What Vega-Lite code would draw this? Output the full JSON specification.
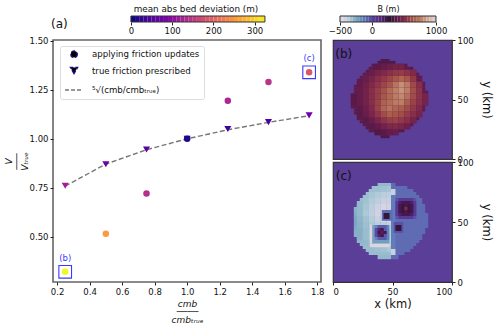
{"$schema":"https://vega.github.io/schema/vega-lite/v6.json","padding":{"left":3,"top":4,"right":2,"bottom":1},"background":"white","config":{"font":"DejaVu Sans","view":{"stroke":null},"axis":{"labelFont":"DejaVu Sans","titleFont":"DejaVu Sans","grid":false,"tickColor":"#222","domainColor":"#222","labelColor":"#111","titleColor":"#111","labelFontSize":8.5,"tickSize":3,"labelOverlap":false}},
"datasets":{
"pts":[{"r":0.25,"V":0.32,"dev":325,"s":"applying friction updates"},{"r":0.5,"V":0.515,"dev":250,"s":"applying friction updates"},{"r":0.75,"V":0.72,"dev":135,"s":"applying friction updates"},{"r":1.25,"V":1.195,"dev":125,"s":"applying friction updates"},{"r":1.5,"V":1.29,"dev":140,"s":"applying friction updates"},{"r":1.75,"V":1.34,"dev":180,"s":"applying friction updates"},{"r":0.25,"V":0.76,"dev":115,"s":"true friction prescribed"},{"r":0.5,"V":0.87,"dev":65,"s":"true friction prescribed"},{"r":0.75,"V":0.945,"dev":50,"s":"true friction prescribed"},{"r":1.25,"V":1.05,"dev":30,"s":"true friction prescribed"},{"r":1.5,"V":1.085,"dev":40,"s":"true friction prescribed"},{"r":1.75,"V":1.12,"dev":70,"s":"true friction prescribed"},{"r":1.0,"V":1.0,"dev":10,"s":"true friction prescribed"},{"r":1.0,"V":1.0,"dev":8,"s":"applying friction updates"}],
"ln":[{"r":0.25,"V":0.758},{"r":0.5,"V":0.871},{"r":0.75,"V":0.944},{"r":1.0,"V":1.0},{"r":1.25,"V":1.046},{"r":1.5,"V":1.084},{"r":1.75,"V":1.118}],
"sel":[{"r":0.25,"V":0.32,"t":"(b)"},{"r":1.75,"V":1.34,"t":"(c)"}],
"cb1":[{"v":0,"v2":10},{"v":10,"v2":20},{"v":20,"v2":30},{"v":30,"v2":40},{"v":40,"v2":50},{"v":50,"v2":60},{"v":60,"v2":70},{"v":70,"v2":80},{"v":80,"v2":90},{"v":90,"v2":100},{"v":100,"v2":110},{"v":110,"v2":120},{"v":120,"v2":130},{"v":130,"v2":140},{"v":140,"v2":150},{"v":150,"v2":160},{"v":160,"v2":170},{"v":170,"v2":180},{"v":180,"v2":190},{"v":190,"v2":200},{"v":200,"v2":210},{"v":210,"v2":220},{"v":220,"v2":230},{"v":230,"v2":240},{"v":240,"v2":250},{"v":250,"v2":260},{"v":260,"v2":270},{"v":270,"v2":280},{"v":280,"v2":290},{"v":290,"v2":300},{"v":300,"v2":310},{"v":310,"v2":325}],
"cb2":[{"v":-500,"v2":-450},{"v":-450,"v2":-400},{"v":-400,"v2":-350},{"v":-350,"v2":-300},{"v":-300,"v2":-250},{"v":-250,"v2":-200},{"v":-200,"v2":-150},{"v":-150,"v2":-100},{"v":-100,"v2":-50},{"v":-50,"v2":0},{"v":0,"v2":50},{"v":50,"v2":100},{"v":100,"v2":150},{"v":150,"v2":200},{"v":200,"v2":250},{"v":250,"v2":300},{"v":300,"v2":350},{"v":350,"v2":400},{"v":400,"v2":450},{"v":450,"v2":500},{"v":500,"v2":550},{"v":550,"v2":600},{"v":600,"v2":650},{"v":650,"v2":700},{"v":700,"v2":750},{"v":750,"v2":800},{"v":800,"v2":850},{"v":850,"v2":900},{"v":900,"v2":950},{"v":950,"v2":1000}],
"b":[
{"x":40,"x2":47.5,"y":17.5,"y2":20,"v":340},{"x":35,"x2":55,"y":20,"y2":22.5,"v":350},{"x":30,"x2":60,"y":22.5,"y2":25,"v":360},{"x":27.5,"x2":65,"y":25,"y2":27.5,"v":360},{"x":25,"x2":67.5,"y":27.5,"y2":30,"v":370},{"x":22.5,"x2":70,"y":30,"y2":32.5,"v":370},{"x":20,"x2":72.5,"y":32.5,"y2":35,"v":370},{"x":20,"x2":75,"y":35,"y2":37.5,"v":380},{"x":17.5,"x2":75,"y":37.5,"y2":40,"v":380},{"x":17.5,"x2":77.5,"y":40,"y2":42.5,"v":380},{"x":15,"x2":77.5,"y":42.5,"y2":45,"v":380},{"x":15,"x2":80,"y":45,"y2":47.5,"v":380},{"x":15,"x2":80,"y":47.5,"y2":50,"v":380},{"x":15,"x2":80,"y":50,"y2":52.5,"v":380},{"x":15,"x2":80,"y":52.5,"y2":55,"v":380},{"x":17.5,"x2":80,"y":55,"y2":57.5,"v":380},{"x":17.5,"x2":77.5,"y":57.5,"y2":60,"v":380},{"x":17.5,"x2":77.5,"y":60,"y2":62.5,"v":380},{"x":20,"x2":77.5,"y":62.5,"y2":65,"v":380},{"x":20,"x2":75,"y":65,"y2":67.5,"v":380},{"x":22.5,"x2":75,"y":67.5,"y2":70,"v":380},{"x":25,"x2":72.5,"y":70,"y2":72.5,"v":380},{"x":27.5,"x2":70,"y":72.5,"y2":75,"v":370},{"x":30,"x2":67.5,"y":75,"y2":77.5,"v":370},{"x":32.5,"x2":62.5,"y":77.5,"y2":80,"v":360},{"x":37.5,"x2":52.5,"y":80,"y2":82.5,"v":340},{"x":40,"x2":47.5,"y":82.5,"y2":84,"v":330},
{"x":35,"x2":40,"y":20,"y2":25,"v":340},{"x":40,"x2":45,"y":20,"y2":25,"v":360},{"x":45,"x2":50,"y":20,"y2":25,"v":390},{"x":50,"x2":55,"y":20,"y2":25,"v":400},
{"x":30,"x2":35,"y":25,"y2":30,"v":360},{"x":35,"x2":40,"y":25,"y2":30,"v":390},{"x":40,"x2":45,"y":25,"y2":30,"v":430},{"x":45,"x2":50,"y":25,"y2":30,"v":460},{"x":50,"x2":55,"y":25,"y2":30,"v":470},{"x":55,"x2":60,"y":25,"y2":30,"v":450},{"x":60,"x2":65,"y":25,"y2":30,"v":420},
{"x":25,"x2":30,"y":30,"y2":35,"v":360},{"x":30,"x2":35,"y":30,"y2":35,"v":400},{"x":35,"x2":40,"y":30,"y2":35,"v":450},{"x":40,"x2":45,"y":30,"y2":35,"v":510},{"x":45,"x2":50,"y":30,"y2":35,"v":550},{"x":50,"x2":55,"y":30,"y2":35,"v":560},{"x":55,"x2":60,"y":30,"y2":35,"v":530},{"x":60,"x2":65,"y":30,"y2":35,"v":490},{"x":65,"x2":70,"y":30,"y2":35,"v":440},
{"x":20,"x2":25,"y":35,"y2":40,"v":360},{"x":25,"x2":30,"y":35,"y2":40,"v":400},{"x":30,"x2":35,"y":35,"y2":40,"v":450},{"x":35,"x2":40,"y":35,"y2":40,"v":520},{"x":40,"x2":45,"y":35,"y2":40,"v":590},{"x":45,"x2":50,"y":35,"y2":40,"v":640},{"x":50,"x2":55,"y":35,"y2":40,"v":620},{"x":55,"x2":60,"y":35,"y2":40,"v":590},{"x":60,"x2":65,"y":35,"y2":40,"v":540},{"x":65,"x2":70,"y":35,"y2":40,"v":490},{"x":70,"x2":75,"y":35,"y2":40,"v":440},
{"x":20,"x2":25,"y":40,"y2":45,"v":370},{"x":25,"x2":30,"y":40,"y2":45,"v":410},{"x":30,"x2":35,"y":40,"y2":45,"v":470},{"x":35,"x2":40,"y":40,"y2":45,"v":560},{"x":40,"x2":45,"y":40,"y2":45,"v":660},{"x":45,"x2":50,"y":40,"y2":45,"v":700},{"x":50,"x2":55,"y":40,"y2":45,"v":660},{"x":55,"x2":60,"y":40,"y2":45,"v":640},{"x":60,"x2":65,"y":40,"y2":45,"v":590},{"x":65,"x2":70,"y":40,"y2":45,"v":530},{"x":70,"x2":75,"y":40,"y2":45,"v":470},
{"x":15,"x2":20,"y":45,"y2":50,"v":360},{"x":20,"x2":25,"y":45,"y2":50,"v":390},{"x":25,"x2":30,"y":45,"y2":50,"v":430},{"x":30,"x2":35,"y":45,"y2":50,"v":490},{"x":35,"x2":40,"y":45,"y2":50,"v":560},{"x":40,"x2":45,"y":45,"y2":50,"v":650},{"x":45,"x2":50,"y":45,"y2":50,"v":680},{"x":50,"x2":55,"y":45,"y2":50,"v":720},{"x":55,"x2":60,"y":45,"y2":50,"v":730},{"x":60,"x2":65,"y":45,"y2":50,"v":640},{"x":65,"x2":70,"y":45,"y2":50,"v":560},{"x":70,"x2":75,"y":45,"y2":50,"v":500},{"x":75,"x2":80,"y":45,"y2":50,"v":440},
{"x":15,"x2":20,"y":50,"y2":55,"v":360},{"x":20,"x2":25,"y":50,"y2":55,"v":390},{"x":25,"x2":30,"y":50,"y2":55,"v":430},{"x":30,"x2":35,"y":50,"y2":55,"v":490},{"x":35,"x2":40,"y":50,"y2":55,"v":550},{"x":40,"x2":45,"y":50,"y2":55,"v":620},{"x":45,"x2":50,"y":50,"y2":55,"v":670},{"x":50,"x2":55,"y":50,"y2":55,"v":720},{"x":55,"x2":60,"y":50,"y2":55,"v":760},{"x":60,"x2":65,"y":50,"y2":55,"v":690},{"x":65,"x2":70,"y":50,"y2":55,"v":590},{"x":70,"x2":75,"y":50,"y2":55,"v":510},{"x":75,"x2":80,"y":50,"y2":55,"v":440},
{"x":20,"x2":25,"y":55,"y2":60,"v":390},{"x":25,"x2":30,"y":55,"y2":60,"v":430},{"x":30,"x2":35,"y":55,"y2":60,"v":490},{"x":35,"x2":40,"y":55,"y2":60,"v":550},{"x":40,"x2":45,"y":55,"y2":60,"v":610},{"x":45,"x2":50,"y":55,"y2":60,"v":680},{"x":50,"x2":55,"y":55,"y2":60,"v":730},{"x":55,"x2":60,"y":55,"y2":60,"v":790},{"x":60,"x2":65,"y":55,"y2":60,"v":730},{"x":65,"x2":70,"y":55,"y2":60,"v":600},{"x":70,"x2":75,"y":55,"y2":60,"v":510},
{"x":20,"x2":25,"y":60,"y2":65,"v":380},{"x":25,"x2":30,"y":60,"y2":65,"v":420},{"x":30,"x2":35,"y":60,"y2":65,"v":470},{"x":35,"x2":40,"y":60,"y2":65,"v":520},{"x":40,"x2":45,"y":60,"y2":65,"v":570},{"x":45,"x2":50,"y":60,"y2":65,"v":620},{"x":50,"x2":55,"y":60,"y2":65,"v":700},{"x":55,"x2":60,"y":60,"y2":65,"v":780},{"x":60,"x2":65,"y":60,"y2":65,"v":720},{"x":65,"x2":70,"y":60,"y2":65,"v":580},{"x":70,"x2":75,"y":60,"y2":65,"v":490},
{"x":25,"x2":30,"y":65,"y2":70,"v":400},{"x":30,"x2":35,"y":65,"y2":70,"v":440},{"x":35,"x2":40,"y":65,"y2":70,"v":490},{"x":40,"x2":45,"y":65,"y2":70,"v":530},{"x":45,"x2":50,"y":65,"y2":70,"v":570},{"x":50,"x2":55,"y":65,"y2":70,"v":620},{"x":55,"x2":60,"y":65,"y2":70,"v":660},{"x":60,"x2":65,"y":65,"y2":70,"v":620},{"x":65,"x2":70,"y":65,"y2":70,"v":530},
{"x":30,"x2":35,"y":70,"y2":75,"v":400},{"x":35,"x2":40,"y":70,"y2":75,"v":440},{"x":40,"x2":45,"y":70,"y2":75,"v":470},{"x":45,"x2":50,"y":70,"y2":75,"v":500},{"x":50,"x2":55,"y":70,"y2":75,"v":530},{"x":55,"x2":60,"y":70,"y2":75,"v":540},{"x":60,"x2":65,"y":70,"y2":75,"v":510},{"x":65,"x2":70,"y":70,"y2":75,"v":470},
{"x":35,"x2":40,"y":75,"y2":80,"v":370},{"x":40,"x2":45,"y":75,"y2":80,"v":390},{"x":45,"x2":50,"y":75,"y2":80,"v":410},{"x":50,"x2":55,"y":75,"y2":80,"v":430},{"x":55,"x2":60,"y":75,"y2":80,"v":430}
],
"c":[
{"x":37.5,"x2":48.75,"y":19,"y2":22.5,"v":-320},{"x":48.75,"x2":55,"y":19,"y2":22.5,"v":-115},{"x":30,"x2":48.75,"y":22.5,"y2":25,"v":-330},{"x":48.75,"x2":60,"y":22.5,"y2":25,"v":-115},{"x":27.5,"x2":48.75,"y":25,"y2":27.5,"v":-330},{"x":48.75,"x2":65,"y":25,"y2":27.5,"v":-115},{"x":25,"x2":48.75,"y":27.5,"y2":30,"v":-330},{"x":48.75,"x2":67.5,"y":27.5,"y2":30,"v":-115},{"x":22.5,"x2":48.75,"y":30,"y2":32.5,"v":-320},{"x":48.75,"x2":70,"y":30,"y2":32.5,"v":-115},{"x":20,"x2":48.75,"y":32.5,"y2":35,"v":-310},{"x":48.75,"x2":72.5,"y":32.5,"y2":35,"v":-115},{"x":20,"x2":48.75,"y":35,"y2":37.5,"v":-300},{"x":48.75,"x2":75,"y":35,"y2":37.5,"v":-115},{"x":17.5,"x2":48.75,"y":37.5,"y2":40,"v":-300},{"x":48.75,"x2":75,"y":37.5,"y2":40,"v":-115},{"x":17.5,"x2":48.75,"y":40,"y2":42.5,"v":-290},{"x":48.75,"x2":77.5,"y":40,"y2":42.5,"v":-115},{"x":17.5,"x2":48.75,"y":42.5,"y2":45,"v":-280},{"x":48.75,"x2":77.5,"y":42.5,"y2":45,"v":-115},{"x":17.5,"x2":48.75,"y":45,"y2":47.5,"v":-270},{"x":48.75,"x2":80,"y":45,"y2":47.5,"v":-115},{"x":17.5,"x2":48.75,"y":47.5,"y2":50,"v":-260},{"x":48.75,"x2":80,"y":47.5,"y2":50,"v":-115},{"x":17.5,"x2":48.75,"y":50,"y2":52.5,"v":-260},{"x":48.75,"x2":80,"y":50,"y2":52.5,"v":-115},{"x":17.5,"x2":48.75,"y":52.5,"y2":55,"v":-270},{"x":48.75,"x2":80,"y":52.5,"y2":55,"v":-115},{"x":17.5,"x2":48.75,"y":55,"y2":57.5,"v":-280},{"x":48.75,"x2":80,"y":55,"y2":57.5,"v":-115},{"x":17.5,"x2":48.75,"y":57.5,"y2":60,"v":-290},{"x":48.75,"x2":77.5,"y":57.5,"y2":60,"v":-115},{"x":17.5,"x2":48.75,"y":60,"y2":62.5,"v":-300},{"x":48.75,"x2":77.5,"y":60,"y2":62.5,"v":-115},{"x":20,"x2":48.75,"y":62.5,"y2":65,"v":-310},{"x":48.75,"x2":77.5,"y":62.5,"y2":65,"v":-115},{"x":20,"x2":48.75,"y":65,"y2":67.5,"v":-320},{"x":48.75,"x2":75,"y":65,"y2":67.5,"v":-115},{"x":22.5,"x2":48.75,"y":67.5,"y2":70,"v":-330},{"x":48.75,"x2":75,"y":67.5,"y2":70,"v":-115},{"x":25,"x2":48.75,"y":70,"y2":72.5,"v":-340},{"x":48.75,"x2":72.5,"y":70,"y2":72.5,"v":-115},{"x":27.5,"x2":48.75,"y":72.5,"y2":75,"v":-340},{"x":48.75,"x2":70,"y":72.5,"y2":75,"v":-115},{"x":30,"x2":48.75,"y":75,"y2":77.5,"v":-340},{"x":48.75,"x2":67.5,"y":75,"y2":77.5,"v":-115},{"x":32.5,"x2":48.75,"y":77.5,"y2":80,"v":-330},{"x":48.75,"x2":62.5,"y":77.5,"y2":80,"v":-115},{"x":37.5,"x2":48.75,"y":80,"y2":82.5,"v":-320},{"x":48.75,"x2":52.5,"y":80,"y2":82.5,"v":-115},
{"x":48.75,"x2":52.5,"y":27.5,"y2":72.5,"v":-155},{"x":48.75,"x2":52.5,"y":22.5,"y2":27.5,"v":-430},{"x":48.75,"x2":52.5,"y":72.5,"y2":77.5,"v":-430},
{"x":35,"x2":40,"y":25,"y2":30,"v":-340},{"x":40,"x2":45,"y":25,"y2":30,"v":-350},{"x":45,"x2":48.75,"y":25,"y2":30,"v":-370},
{"x":25,"x2":30,"y":30,"y2":35,"v":-320},{"x":30,"x2":35,"y":30,"y2":35,"v":-350},{"x":35,"x2":48.75,"y":30,"y2":35,"v":-400},
{"x":20,"x2":25,"y":35,"y2":45,"v":-290},{"x":25,"x2":30,"y":35,"y2":45,"v":-330},{"x":30,"x2":35,"y":35,"y2":45,"v":-370},
{"x":20,"x2":25,"y":45,"y2":50,"v":-300},{"x":25,"x2":30,"y":45,"y2":50,"v":-340},{"x":30,"x2":35,"y":45,"y2":50,"v":-370},{"x":35,"x2":40,"y":45,"y2":50,"v":-400},{"x":40,"x2":45,"y":45,"y2":50,"v":-400},{"x":45,"x2":48.75,"y":45,"y2":50,"v":-420},
{"x":20,"x2":25,"y":50,"y2":55,"v":-310},{"x":25,"x2":30,"y":50,"y2":55,"v":-350},{"x":30,"x2":35,"y":50,"y2":55,"v":-390},{"x":35,"x2":40,"y":50,"y2":55,"v":-430},{"x":40,"x2":45,"y":50,"y2":55,"v":-470},{"x":45,"x2":48.75,"y":50,"y2":55,"v":-460},
{"x":20,"x2":25,"y":55,"y2":60,"v":-320},{"x":25,"x2":30,"y":55,"y2":60,"v":-370},{"x":30,"x2":35,"y":55,"y2":60,"v":-410},{"x":35,"x2":40,"y":55,"y2":60,"v":-450},{"x":40,"x2":45,"y":55,"y2":60,"v":-490},{"x":45,"x2":48.75,"y":55,"y2":60,"v":-480},
{"x":20,"x2":25,"y":60,"y2":65,"v":-320},{"x":25,"x2":30,"y":60,"y2":65,"v":-360},{"x":30,"x2":35,"y":60,"y2":65,"v":-400},{"x":35,"x2":40,"y":60,"y2":65,"v":-440},{"x":40,"x2":45,"y":60,"y2":65,"v":-470},{"x":45,"x2":48.75,"y":60,"y2":65,"v":-450},
{"x":25,"x2":30,"y":65,"y2":70,"v":-350},{"x":30,"x2":35,"y":65,"y2":70,"v":-380},{"x":35,"x2":40,"y":65,"y2":70,"v":-410},{"x":40,"x2":45,"y":65,"y2":70,"v":-430},{"x":45,"x2":48.75,"y":65,"y2":70,"v":-430},
{"x":30,"x2":35,"y":70,"y2":75,"v":-360},{"x":35,"x2":40,"y":70,"y2":75,"v":-380},{"x":40,"x2":45,"y":70,"y2":75,"v":-400},{"x":45,"x2":48.75,"y":70,"y2":75,"v":-410},
{"x":35,"x2":40,"y":75,"y2":80,"v":-340},{"x":40,"x2":45,"y":75,"y2":80,"v":-350},{"x":45,"x2":48.75,"y":75,"y2":80,"v":-360},
{"x":31,"x2":47.5,"y":29,"y2":32,"v":-480},{"x":31,"x2":33,"y":32,"y2":48,"v":-470},{"x":33,"x2":47.5,"y":32,"y2":35,"v":-240},{"x":33,"x2":35,"y":35,"y2":47.5,"v":-240},{"x":35,"x2":47.5,"y":35,"y2":47.5,"v":-170},{"x":47.5,"x2":48.75,"y":32,"y2":47.5,"v":-380},
{"x":35,"x2":45,"y":37.5,"y2":45,"v":-30},{"x":37.5,"x2":45,"y":35,"y2":47.5,"v":-70},{"x":37.5,"x2":42.5,"y":37.5,"y2":45,"v":130},{"x":37.5,"x2":45,"y":40,"y2":42.5,"v":190},{"x":40,"x2":42.5,"y":37.5,"y2":45,"v":200},{"x":40,"x2":42.5,"y":40,"y2":42.5,"v":400},
{"x":52.5,"x2":70,"y":52.5,"y2":70,"v":-50},{"x":55,"x2":67.5,"y":52.5,"y2":70,"v":20},{"x":52.5,"x2":70,"y":55,"y2":67.5,"v":20},{"x":55,"x2":67.5,"y":55,"y2":67.5,"v":140},{"x":57.5,"x2":65,"y":55,"y2":67.5,"v":190},{"x":55,"x2":67.5,"y":57.5,"y2":65,"v":190},{"x":57.5,"x2":65,"y":57.5,"y2":65,"v":280},{"x":60,"x2":62.5,"y":57.5,"y2":65,"v":340},{"x":60,"x2":62.5,"y":60,"y2":62.5,"v":480},
{"x":41,"x2":50,"y":51,"y2":60,"v":-120},{"x":42.5,"x2":47.5,"y":52.5,"y2":57.5,"v":270},
{"x":51,"x2":59,"y":41,"y2":50,"v":-40},{"x":52.5,"x2":57.5,"y":42.5,"y2":47.5,"v":270}
]
},
"hconcat":[
{"spacing":18,"bounds":"flush","vconcat":[
{"width":268,"height":6,"title":{"text":"mean abs bed deviation (m)","fontSize":8.8,"fontWeight":"normal","dx":9,"offset":2,"color":"#111"},
"layer":[
{"data":{"name":"cb1"},"mark":{"type":"rect"},"encoding":{"x":{"field":"v","type":"quantitative","scale":{"domain":[-189,461],"nice":false,"zero":false},"axis":{"values":[0,100,200,300],"domain":false,"title":null,"labelPadding":1,"labelFontSize":8.5}},"x2":{"field":"v2"},"fill":{"field":"v","type":"quantitative","scale":{"scheme":"plasma","domain":[0,325]},"legend":null}}},
{"data":{"values":[{"v":0,"v2":325}]},"mark":{"type":"rect","fill":null,"stroke":"#333","strokeWidth":1},"encoding":{"x":{"field":"v","type":"quantitative"},"x2":{"field":"v2"}}}
]},
{"width":268,"height":242,"title":{"text":"(a)","anchor":"start","fontSize":12,"fontWeight":"normal","offset":6,"dx":47,"color":"#111"},"view":{"stroke":"#666","strokeWidth":1.6},
"layer":[
{"data":{"name":"ln"},"mark":{"type":"line","color":"#777","strokeDash":[5,2.5],"strokeWidth":1.4},"encoding":{"x":{"field":"r","type":"quantitative","scale":{"domain":[0.175,1.823],"nice":false,"zero":false},"axis":{"values":[0.2,0.4,0.6,0.8,1.0,1.2,1.4,1.6,1.8],"labelOverlap":false,"labelSeparation":0,"labelBound":false,"tickCount":9,"format":".1f","title":["cmb","────","cmbₜᵣᵤₑ"],"titleFontStyle":"italic","titleFontWeight":"normal","titleFontSize":9,"titleLineHeight":8,"titlePadding":4,"domain":false,"labelFontSize":8.5}},"y":{"field":"V","type":"quantitative","scale":{"domain":[0.268,1.505],"nice":false,"zero":false},"axis":{"values":[0.5,0.75,1.0,1.25,1.5],"format":".2f","title":["V","───","Vₜᵣᵤₑ"],"titleFontStyle":"italic","titleFontWeight":"normal","titleFontSize":9,"titleLineHeight":8,"titlePadding":0,"domain":false,"labelFontSize":8.5}}}},
{"data":{"name":"pts"},"mark":{"type":"point","filled":true,"strokeWidth":0,"opacity":1},"encoding":{"x":{"field":"r","type":"quantitative"},"y":{"field":"V","type":"quantitative"},"fill":{"field":"dev","type":"quantitative","scale":{"scheme":"plasma","domain":[0,325]},"legend":null},
"shape":{"field":"s","type":"nominal","scale":{"domain":["applying friction updates","true friction prescribed","⁵√(cmb/cmbₜᵣᵤₑ)"],"range":["circle","triangle-down","stroke"]},"legend":{"title":null,"orient":"none","legendX":7,"legendY":30,"fillColor":"white","strokeColor":"#ddd","cornerRadius":2,"padding":4,"labelFontSize":8.6,"labelColor":"#111","rowPadding":3,"symbolDash":[4,2],"symbolStrokeWidth":1.4,"symbolFillColor":"#1f0c78","labelOffset":8}},
"stroke":{"field":"s","type":"nominal","scale":{"domain":["applying friction updates","true friction prescribed","⁵√(cmb/cmbₜᵣᵤₑ)"],"range":["#1f0c78","#1f0c78","#777777"]}},
"size":{"field":"s","type":"nominal","scale":{"type":"ordinal","domain":["applying friction updates","true friction prescribed","⁵√(cmb/cmbₜᵣᵤₑ)"],"range":[42,50,324]}}}},
{"data":{"name":"sel"},"mark":{"type":"point","shape":"square","size":160,"filled":false,"stroke":"#3a3aff","strokeWidth":1.1,"opacity":1},"encoding":{"x":{"field":"r","type":"quantitative"},"y":{"field":"V","type":"quantitative"}}},
{"data":{"name":"sel"},"mark":{"type":"text","dy":-14,"fontSize":8.5,"color":"#3a3aff"},"encoding":{"x":{"field":"r","type":"quantitative"},"y":{"field":"V","type":"quantitative"},"text":{"field":"t"}}}
]}
]},
{"spacing":3,"bounds":"flush","vconcat":[
{"width":119,"height":6,"title":{"text":"B (m)","fontSize":8,"fontWeight":"normal","dx":-4,"offset":2,"color":"#111"},
"layer":[
{"data":{"name":"cb2"},"mark":{"type":"rect"},"encoding":{"x":{"field":"v","type":"quantitative","scale":{"domain":[-609,1250],"nice":false,"zero":false},"axis":{"values":[-500,0,1000],"labelExpr":"datum.value<0?'−500':datum.label","format":"d","domain":false,"title":null,"labelPadding":1,"labelFontSize":8.5}},"x2":{"field":"v2"},"color":{"field":"v","type":"quantitative","scale":{"domain":[-500,-380,-245,-125,0,125,250,375,500,625,775,880,1000],"range":["#e2d9e2","#b0ccd8","#75a0bf","#6070b5","#5b3e98","#54207a","#2f1436","#5f1a4a","#8a3048","#a85848","#c58e72","#d5b8a8","#e2d9e2"]},"legend":null}}},
{"data":{"values":[{"v":-500,"v2":1000}]},"mark":{"type":"rect","fill":null,"stroke":"#333","strokeWidth":1},"encoding":{"x":{"field":"v","type":"quantitative"},"x2":{"field":"v2"}}}
]},
{"width":119,"height":12,"data":{"values":[{"a":0}]},"mark":{"type":"point","opacity":0},"encoding":{}},
{"width":119,"height":119,"view":{"fill":"#5b3e98","stroke":"#333","strokeWidth":1.2},
"layer":[{"data":{"name":"b"},"mark":{"type":"rect"},"encoding":{"x":{"field":"x","type":"quantitative","scale":{"domain":[0,100],"nice":false},"axis":null},"x2":{"field":"x2"},"y":{"field":"y","type":"quantitative","scale":{"domain":[0,100],"nice":false},"axis":{"orient":"right","values":[0,50,100],"title":"y (km)","titleFontSize":11.5,"titleFontWeight":"normal","titlePadding":7,"domain":false,"labelFontSize":8.5}},"y2":{"field":"y2"},"color":{"field":"v","type":"quantitative","scale":{"domain":[-500,-380,-245,-125,0,125,250,375,500,625,775,880,1000],"range":["#e2d9e2","#b0ccd8","#75a0bf","#6070b5","#5b3e98","#54207a","#2f1436","#5f1a4a","#8a3048","#a85848","#c58e72","#d5b8a8","#e2d9e2"]},"legend":null}}},
{"data":{"values":[{"x":9,"y":88,"t":"(b)"}]},"mark":{"type":"text","fontSize":12,"color":"#111"},"encoding":{"x":{"field":"x","type":"quantitative"},"y":{"field":"y","type":"quantitative"},"text":{"field":"t"}}}]},
{"width":119,"height":120,"view":{"fill":"#5b3e98","stroke":"#333","strokeWidth":1.2},
"layer":[{"data":{"name":"c"},"mark":{"type":"rect"},"encoding":{"x":{"field":"x","type":"quantitative","scale":{"domain":[0,100],"nice":false},"axis":{"values":[0,50,100],"title":"x (km)","titleFontSize":11.5,"titleFontWeight":"normal","titlePadding":3,"domain":false,"labelFontSize":8.5}},"x2":{"field":"x2"},"y":{"field":"y","type":"quantitative","scale":{"domain":[0,100],"nice":false},"axis":{"orient":"right","values":[0,50,100],"title":"y (km)","titleFontSize":11.5,"titleFontWeight":"normal","titlePadding":7,"domain":false,"labelFontSize":8.5}},"y2":{"field":"y2"},"color":{"field":"v","type":"quantitative","scale":{"domain":[-500,-380,-245,-125,0,125,250,375,500,625,775,880,1000],"range":["#e2d9e2","#b0ccd8","#75a0bf","#6070b5","#5b3e98","#54207a","#2f1436","#5f1a4a","#8a3048","#a85848","#c58e72","#d5b8a8","#e2d9e2"]},"legend":null}}},
{"data":{"values":[{"x":9,"y":88,"t":"(c)"}]},"mark":{"type":"text","fontSize":12,"color":"#111"},"encoding":{"x":{"field":"x","type":"quantitative"},"y":{"field":"y","type":"quantitative"},"text":{"field":"t"}}}]}
]}
],"spacing":3}
